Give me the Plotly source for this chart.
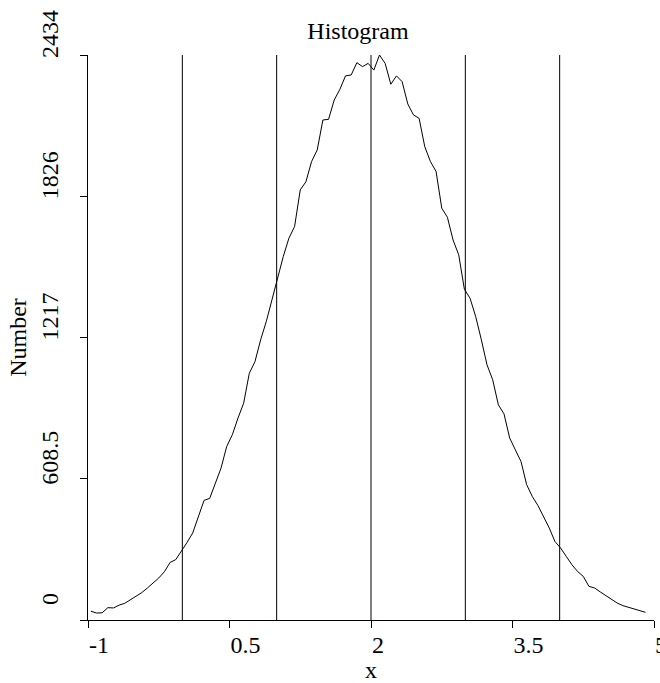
import plotly.graph_objects as go

# Bin centers (x) and counts
bin_centers = [
    -0.97, -0.91, -0.85, -0.79, -0.73, -0.67, -0.61, -0.55, -0.49, -0.43,
    -0.37, -0.31, -0.25, -0.19, -0.13, -0.07, -0.01, 0.05, 0.11, 0.17,
    0.23, 0.29, 0.35, 0.41, 0.47, 0.53, 0.59, 0.65, 0.71, 0.77,
    0.83, 0.89, 0.95, 1.01, 1.07, 1.13, 1.19, 1.25, 1.31, 1.37,
    1.43, 1.49, 1.55, 1.61, 1.67, 1.73, 1.79, 1.85, 1.91, 1.97,
    2.03, 2.09, 2.15, 2.21, 2.27, 2.33, 2.39, 2.45, 2.51, 2.57,
    2.63, 2.69, 2.75, 2.81, 2.87, 2.93, 2.99, 3.05, 3.11, 3.17,
    3.23, 3.29, 3.35, 3.41, 3.47, 3.53, 3.59, 3.65, 3.71, 3.77,
    3.83, 3.89, 3.95, 4.01, 4.07, 4.13, 4.19, 4.25, 4.31, 4.37,
    4.43, 4.49, 4.55, 4.61, 4.67, 4.73, 4.79, 4.85, 4.91,
]
counts = [
    38, 30, 31, 53, 52, 64, 72, 88, 104, 118,
    138, 159, 181, 208, 248, 260, 295, 334, 375, 446,
    515, 524, 590, 654, 747, 798, 870, 934, 1063, 1113,
    1207, 1286, 1379, 1479, 1566, 1645, 1695, 1853, 1888, 1975,
    2025, 2154, 2157, 2240, 2286, 2344, 2348, 2401, 2384, 2398,
    2369, 2434, 2398, 2308, 2344, 2319, 2223, 2176, 2161, 2039,
    1975, 1932, 1774, 1735, 1637, 1573, 1425, 1386, 1307, 1207,
    1099, 1035, 927, 888, 784, 733, 683, 583, 532, 493,
    446, 396, 338, 310, 274, 238, 209, 188, 145, 138,
    121, 105, 87, 73, 62, 54, 47, 41, 33,
]

ref_lines = [0, 1, 2, 3, 4]

x_range = [-1, 5]
y_range = [0, 2434]
x_tickvals = [-1, 0.5, 2, 3.5, 5]
x_ticktext = ["-1", "0.5", "2", "3.5", "5"]
y_tickvals = [0, 608.5, 1217, 1825.5, 2434]
y_ticktext = ["0", "608.5", "1217", "1826", "2434"]

FONT = "Liberation Serif"
FS = 24

fig = go.Figure()
fig.add_trace(go.Scatter(
    x=bin_centers, y=counts, mode="lines",
    line=dict(color="black", width=1),
    showlegend=False, hoverinfo="skip",
))

for xv in ref_lines:
    fig.add_shape(type="line", xref="x", yref="y",
                  x0=xv, x1=xv, y0=y_range[0], y1=y_range[1],
                  line=dict(color="black", width=1), layer="above")

fig.update_layout(
    width=660, height=683,
    margin=dict(l=88, r=6, t=55, b=63, autoexpand=False),
    paper_bgcolor="white", plot_bgcolor="white",
    font=dict(family=FONT, size=FS, color="black"),
    title=dict(text="Histogram", x=358 / 660, xanchor="center",
               xref="container", yref="container",
               y=1 - 31 / 683, yanchor="middle",
               font=dict(family=FONT, size=FS, color="black")),
)
fig.update_xaxes(
    range=x_range, showgrid=False, zeroline=False, automargin=False,
    showline=True, linecolor="black", linewidth=1,
    ticks="outside", ticklen=7, tickcolor="black", tickwidth=1,
    tickvals=x_tickvals, ticktext=x_ticktext,
    ticklabelposition="outside right", ticklabeloverflow="allow",
    ticklabelstandoff=3,
    tickfont=dict(family=FONT, size=FS, color="black"),
    title=dict(text="x", font=dict(family=FONT, size=FS, color="black"), standoff=10),
)
fig.update_yaxes(
    range=y_range, showgrid=False, zeroline=False, automargin=False,
    showline=True, linecolor="black", linewidth=1,
    ticks="outside", ticklen=7, tickcolor="black", tickwidth=1,
    tickvals=y_tickvals, ticktext=y_ticktext,
    tickangle=-90, ticklabelposition="outside top", ticklabeloverflow="allow",
    ticklabelstandoff=19,
    tickfont=dict(family=FONT, size=FS, color="black"),
    title=dict(text="Number", font=dict(family=FONT, size=FS, color="black"), standoff=4),
)

fig.write_html("out.html")
